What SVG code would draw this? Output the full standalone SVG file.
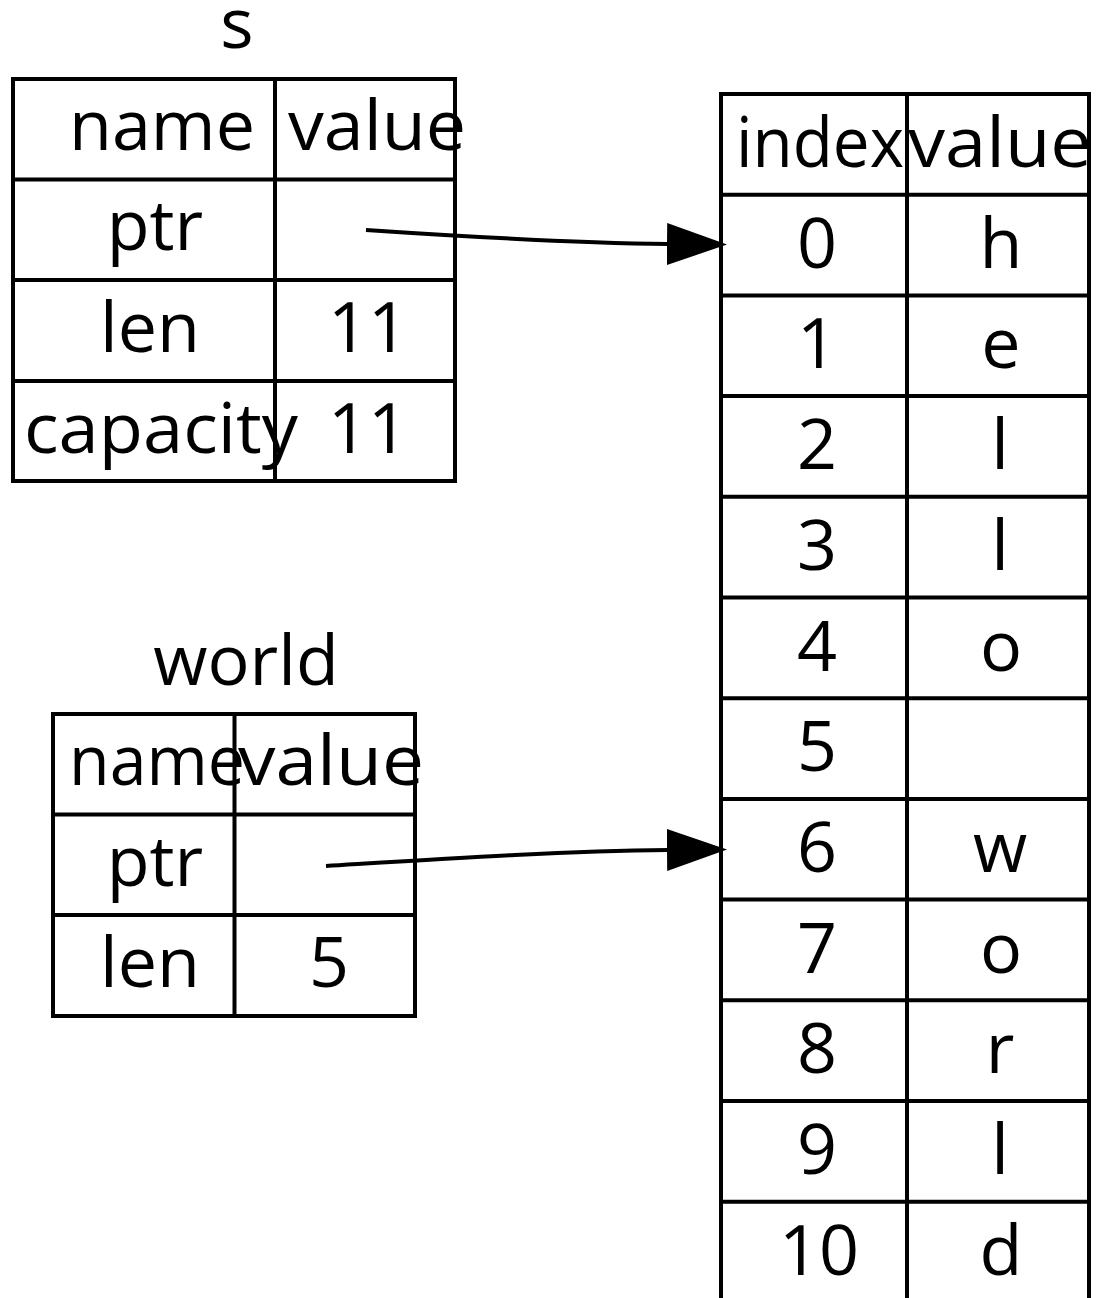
<svg xmlns="http://www.w3.org/2000/svg" width="1102" height="1298" viewBox="0 0 1102 1298">
<style>
.t{font-family:"Open Sans","Noto Sans","DejaVu Sans",sans-serif;font-size:70px;fill:#000;text-anchor:middle}
.b{fill:none;stroke:#000;stroke-width:4}
.e{fill:none;stroke:#000;stroke-width:4}
</style>
<defs>
<marker id="ah" markerUnits="userSpaceOnUse" viewBox="0 0 60 42" refX="1" refY="21" markerWidth="60" markerHeight="42" orient="auto">
<path d="M0,0 L60,21 L0,42 z" fill="#000"/>
</marker>
</defs>
<rect width="1102" height="1298" fill="#fff"/>
<g id="s">
<text class="t" x="237" y="48">s</text>
<rect class="b" x="13" y="79" width="442" height="402"/>
<path class="b" d="M275,79 V481 M13,179.5 H455 M13,280 H455 M13,381 H455"/>
<text class="t" x="162" y="150">name</text>
<text class="t" x="377" y="150" textLength="178" lengthAdjust="spacingAndGlyphs">value</text>
<text class="t" x="155" y="250">ptr</text>
<text class="t" x="150" y="352">len</text>
<text class="t" x="368" y="352">11</text>
<text class="t" x="161" y="453" textLength="274" lengthAdjust="spacingAndGlyphs">capacity</text>
<text class="t" x="368" y="453">11</text>
</g>
<g id="world">
<text class="t" x="246" y="685">world</text>
<rect class="b" x="53" y="714" width="362" height="302"/>
<path class="b" d="M234.5,714 V1016 M53,814.5 H415 M53,915 H415"/>
<text class="t" x="157" y="785" textLength="176" lengthAdjust="spacingAndGlyphs">name</text>
<text class="t" x="331" y="785" textLength="186" lengthAdjust="spacingAndGlyphs">value</text>
<text class="t" x="155" y="886">ptr</text>
<text class="t" x="150" y="987">len</text>
<text class="t" x="329" y="987">5</text>
</g>
<g id="heap">
<path class="b" d="M721,1300 V94 H1089 V1300 M907,94 V1300 M721,194.7 H1089 M721,295.4 H1089 M721,396.1 H1089 M721,496.8 H1089 M721,597.5 H1089 M721,698.2 H1089 M721,798.9 H1089 M721,899.6 H1089 M721,1000.3 H1089 M721,1101 H1089 M721,1201.7 H1089"/>
<text class="t" x="820" y="167" textLength="168" lengthAdjust="spacingAndGlyphs">index</text>
<text class="t" x="1000" y="167" textLength="184" lengthAdjust="spacingAndGlyphs">value</text>
<text class="t" x="817" y="267.7">0</text><text class="t" x="1001" y="267.7">h</text>
<text class="t" x="817" y="368.4">1</text><text class="t" x="1001" y="368.4">e</text>
<text class="t" x="817" y="469.1">2</text><text class="t" x="1000" y="469.1">l</text>
<text class="t" x="817" y="569.8">3</text><text class="t" x="1000" y="569.8">l</text>
<text class="t" x="817" y="670.5">4</text><text class="t" x="1001" y="670.5">o</text>
<text class="t" x="817" y="771.2">5</text>
<text class="t" x="817" y="871.9">6</text><text class="t" x="1000" y="871.9">w</text>
<text class="t" x="817" y="972.6">7</text><text class="t" x="1001" y="972.6">o</text>
<text class="t" x="817" y="1073.3">8</text><text class="t" x="1000" y="1073.3">r</text>
<text class="t" x="817" y="1174">9</text><text class="t" x="1000" y="1174">l</text>
<text class="t" x="819" y="1274.7">10</text><text class="t" x="1001" y="1274.7">d</text>
</g>
<g id="connectors">
<path class="e" d="M366,230 C470,237 570,243 668,244" marker-end="url(#ah)"/>
<path class="e" d="M326,866 C440,859 560,851 668,850" marker-end="url(#ah)"/>
</g>
</svg>
